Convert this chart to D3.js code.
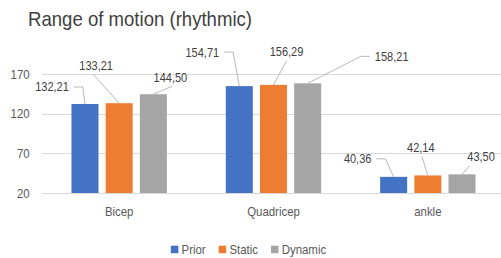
<!DOCTYPE html>
<html>
<head>
<meta charset="utf-8">
<script src="https://cdn.jsdelivr.net/npm/d3@7"></script>
<style>
  body { margin: 0; background: #fff; }
  svg { display: block; font-family: "Liberation Sans", Arial, sans-serif; }
</style>
</head>
<body>
<div id="chart"></div>
<script>
// data
const categories = ['Bicep', 'Quadricep', 'ankle'];
const seriesNames = ['Prior', 'Static', 'Dynamic'];
const priorValues = [132.21, 154.71, 40.36];
const staticValues = [133.21, 156.29, 42.14];
const dynamicValues = [144.50, 158.21, 43.50];
const yTickValues = [20, 70, 120, 170];
const titleText = 'Range of motion (rhythmic)';

// callout layout per [category][series]: label offset from bar top, leader side, leader start shift
const callouts = [
	[[-33, -17, 'right', 0], [-23, -38, 'bottom', -3], [17, -17, 'bottom', 2]],
	[[-37, -34, 'right', 0], [13, -33, 'bottom', 0], [84, -27, 'left', 0]],
	[[-36, -18, 'right', 0], [-7, -28, 'bottom', 1], [19, -18, 'bottom', -11]]
];

const colors = ['#4472C4', '#ED7D31', '#A5A5A5'];
const seriesValues = [priorValues, staticValues, dynamicValues];

const W = 501, H = 258;
const margin = { top: 74, left: 42, bottom: 65 };
const sx = 0.88; // text looks horizontally squeezed in the reference

const locale = d3.formatLocale({ decimal: ',', thousands: '.', grouping: [3], currency: ['', ''] });
const fmt = locale.format('.2f');

const svg = d3.select('#chart').append('svg')
	.attr('width', W)
	.attr('height', H);

function placeText(sel, x, y) {
	return sel.attr('transform', 'translate(' + x + ',' + y + ') scale(' + sx + ',1)');
}

// title
svg.append('text')
	.attr('x', 28)
	.attr('y', 25.5)
	.attr('font-size', 21)
	.attr('fill', '#404040')
	.attr('textLength', 224)
	.attr('lengthAdjust', 'spacingAndGlyphs')
	.text(titleText);

const x0 = d3.scaleBand()
	.domain(categories)
	.range([margin.left, 505])
	.paddingInner(0.382)
	.paddingOuter(0.191);

const x1 = d3.scaleBand()
	.domain(seriesNames)
	.range([0, x0.bandwidth()])
	.paddingInner(0.21);

const y = d3.scaleLinear()
	.domain([20, 170])
	.range([H - margin.bottom, margin.top]);

// gridlines
svg.append('g').selectAll('line')
	.data(yTickValues)
	.enter().append('line')
	.attr('x1', margin.left)
	.attr('x2', W)
	.attr('y1', d => Math.round(y(d)) + 0.5)
	.attr('y2', d => Math.round(y(d)) + 0.5)
	.attr('stroke', '#d9d9d9')
	.attr('stroke-width', 1);

// y axis labels
const yAxis = svg.append('g')
	.attr('transform', 'translate(' + margin.left + ',0)')
	.call(d3.axisLeft(y).tickValues(yTickValues).tickSize(0).tickPadding(14));
yAxis.select('.domain').remove();
yAxis.selectAll('text')
	.attr('font-size', 13)
	.attr('font-family', null)
	.attr('fill', '#595959')
	.attr('transform', 'scale(' + sx + ',1)');

// x axis labels
const xAxis = svg.append('g')
	.attr('transform', 'translate(0,' + y(20) + ')')
	.call(d3.axisBottom(x0).tickSize(0).tickPadding(14));
xAxis.select('.domain').remove();
xAxis.selectAll('.tick text')
	.attr('font-size', 13)
	.attr('font-family', null)
	.attr('fill', '#595959')
	.attr('transform', 'scale(' + sx + ',1)');

// bars
const rows = [];
categories.forEach((c, ci) => {
	seriesNames.forEach((s, si) => {
		rows.push({ cat: c, series: s, ci: ci, si: si, value: seriesValues[si][ci] });
	});
});

svg.append('g').selectAll('rect')
	.data(rows)
	.enter().append('rect')
	.attr('x', d => x0(d.cat) + x1(d.series))
	.attr('y', d => y(d.value))
	.attr('width', x1.bandwidth())
	.attr('height', d => y(20) - y(d.value))
	.attr('fill', d => colors[d.si]);

// data callouts
const labelLayer = svg.append('g');
rows.forEach(d => {
	const c = callouts[d.ci][d.si];
	const tx = x0(d.cat) + x1(d.series) + x1.bandwidth() / 2;
	const ty = y(d.value);
	const lx = tx + c[0], ly = ty + c[1];
	const t = placeText(labelLayer.append('text'), lx, ly)
		.attr('text-anchor', 'middle')
		.attr('dy', '0.35em')
		.attr('font-size', 12.5)
		.attr('fill', '#404040')
		.text(fmt(d.value));
	const hw = t.node().getComputedTextLength() * sx / 2;
	let pts;
	if (c[2] === 'right') {
		const sx0 = lx + hw + 5;
		pts = [[sx0, ly], [sx0 + 9, ly], [tx, ty]];
	} else if (c[2] === 'left') {
		const sx0 = lx - hw - 5;
		pts = [[sx0, ly], [sx0 - 9, ly], [tx, ty]];
	} else {
		pts = [[lx + c[3], ly + 9], [tx, ty]];
	}
	labelLayer.append('path')
		.attr('d', d3.line()(pts))
		.attr('fill', 'none')
		.attr('stroke', '#a6a6a6')
		.attr('stroke-width', 0.8);
});

// legend
const legend = svg.append('g');
let lxPos = 0;
seriesNames.forEach((s, i) => {
	legend.append('rect')
		.attr('x', lxPos)
		.attr('y', 245.7)
		.attr('width', 7.5)
		.attr('height', 7.5)
		.attr('fill', colors[i]);
	const t = placeText(legend.append('text'), lxPos + 10.7, 249.5)
		.attr('dy', '0.35em')
		.attr('font-size', 13)
		.attr('fill', '#595959')
		.text(s);
	lxPos += 10.7 + t.node().getComputedTextLength() * sx + 13;
});
const legendW = lxPos - 13;
legend.attr('transform', 'translate(' + (248.5 - legendW / 2) + ',0)');
</script>
</body>
</html>
